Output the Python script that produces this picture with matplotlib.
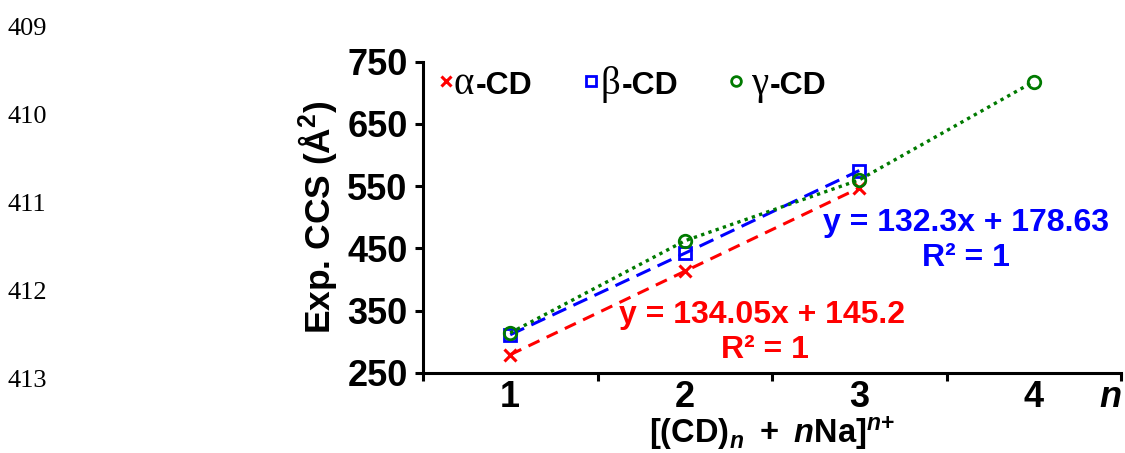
import matplotlib
matplotlib.use("Agg")
import matplotlib.pyplot as plt
from matplotlib.lines import Line2D
from matplotlib.offsetbox import (AnchoredOffsetbox, DrawingArea, HPacker,
                                  TextArea)

plt.rcParams['font.family'] = ['Liberation Sans', 'DejaVu Sans']
plt.rcParams['mathtext.fontset'] = 'custom'
plt.rcParams['mathtext.rm'] = 'Liberation Sans:bold'
plt.rcParams['mathtext.it'] = 'Liberation Sans:italic:bold'
plt.rcParams['mathtext.bf'] = 'Liberation Sans:bold'

# ---- data ----
alpha_x = [1, 2, 3]
alpha_y = [279, 413, 547]
beta_x = [1, 2, 3]
beta_y = [311, 442, 575]
gamma_x = [1, 2, 3, 4]
gamma_y = [314, 462, 560, 718]
x_tick_labels = ['1', '2', '3', '4']
y_ticks = [250, 350, 450, 550, 650, 750]
line_numbers = ['409', '410', '411', '412', '413']
series_greek = ['α', 'β', 'γ']
series_suffix = '-CD'
alpha_eq = 'y = 134.05x + 145.2'
beta_eq = 'y = 132.3x + 178.63'
r2_text = 'R² = 1'

RED = '#FF0000'
BLUE = '#0000FF'
GREEN = '#007A00'

W, H = 1125, 453
fig = plt.figure(figsize=(W/100, H/100), dpi=100)
ax = fig.add_axes([423/W, 1-372.7/H, (1121-423)/W, (372.7-61.7)/H])

ax.plot(alpha_x, alpha_y, color=RED, lw=2.2, dashes=(4, 2.6), marker='x',
        ms=9, mew=2.2, mec=RED, zorder=3)
ax.plot(beta_x, beta_y, color=BLUE, lw=2.2, dashes=(5, 2.6), marker='s',
        ms=8, mew=2.0, mfc='none', mec=BLUE, zorder=3)
ax.plot(gamma_x, gamma_y, color=GREEN, lw=2.4, dashes=(1, 1.3), marker='o',
        ms=9, mew=2.0, mfc='none', mec=GREEN, zorder=4)

ax.set_xlim(0.5, 4.5)
ax.set_ylim(250, 750)
ax.spines['top'].set_visible(False)
ax.spines['right'].set_visible(False)
for s in ('left', 'bottom'):
    ax.spines[s].set_linewidth(2.2)

ax.set_xticks([0.5, 1.5, 2.5, 3.5, 4.5])
ax.set_xticklabels([])
ax.set_xticks([1, 2, 3, 4], minor=True)
ax.set_xticklabels(x_tick_labels, minor=True)
ax.tick_params(axis='x', which='major', direction='out', length=6, width=2.2)
ax.tick_params(axis='x', which='minor', length=0, pad=5.5, labelsize=26)
ax.set_yticks(y_ticks)
ax.tick_params(axis='y', direction='out', length=6, width=2.2, pad=5, labelsize=26)
for lab in ax.get_xticklabels(minor=True) + ax.get_yticklabels():
    lab.set_fontweight('bold')

ax.set_ylabel(r'Exp. CCS (Å$^{\mathbf{2}}$)', fontsize=25.5, fontweight='bold', labelpad=6)

fig.text(772/W, 1-443/H,
         r'$\mathbf{[(CD)}_{\mathit{n}}\mathbf{\ +\ }\mathit{n}\mathbf{Na]}^{\mathit{n}\mathbf{+}}$',
         ha='center', va='baseline', fontsize=23.5)

ax.text(1.0, -0.08, 'n', transform=ax.transAxes, ha='right', va='center',
        fontsize=26, fontweight='bold', fontstyle='italic')

# fit equations
eq_kw = dict(ha='center', va='center', fontsize=23, fontweight='bold')
ax.text(3.61, 491, beta_eq, color=BLUE, **eq_kw)
ax.text(3.61, 434, r2_text, color=BLUE, **eq_kw)
ax.text(2.44, 343, alpha_eq, color=RED, **eq_kw)
ax.text(2.46, 286, r2_text, color=RED, **eq_kw)

# legend (marker + serif greek letter + bold sans suffix)
legend_markers = [
    dict(marker='x', ms=7, mew=2.2, color=RED),
    dict(marker='s', ms=7, mew=2.0, mfc='none', mec=BLUE),
    dict(marker='o', ms=7, mew=2.0, mfc='none', mec=GREEN),
]
legend_left_px = [440, 585, 730]
legend_gap = [2, 3, 7]
for greek, mk, xl, gap in zip(series_greek, legend_markers, legend_left_px, legend_gap):
    da = DrawingArea(8, 18.7, 0, 0)
    da.add_artist(Line2D([4], [9.4], ls='none', **mk))
    t1 = TextArea(greek, textprops=dict(family='Liberation Serif', size=28))
    t2 = TextArea(series_suffix, textprops=dict(family='Liberation Sans',
                                                weight='bold', size=23))
    box = HPacker(children=[da, HPacker(children=[t1, t2], align='baseline', pad=0, sep=1)],
                  align='baseline', pad=0, sep=gap)
    anch = AnchoredOffsetbox(loc='lower left', child=box, pad=0, borderpad=0,
                             frameon=False, bbox_to_anchor=(xl/W, 1-103/H),
                             bbox_transform=fig.transFigure)
    fig.add_artist(anch)

# document line numbers
for i, t in enumerate(line_numbers):
    fig.text(8/W, 1 - (29 + i*88)/H, t, ha='left', va='center',
             fontsize=19, family='Liberation Serif')

fig.savefig('out.png', dpi=100)
